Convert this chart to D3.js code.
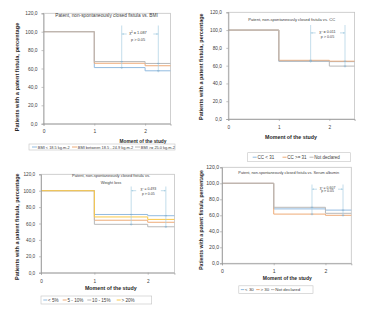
<!DOCTYPE html>
<html><head><meta charset="utf-8">
<script src="https://cdn.jsdelivr.net/npm/d3@7"></script>
<style>body{margin:0;background:#fff} svg{display:block;font-family:"Liberation Sans",Arial,sans-serif}</style>
</head><body><svg id="c" width="391" height="323"></svg>
<script>
// ---------- DATA ----------
const timePoints = [0, 1, 2];
const xDomain = [0, 2.5];
const xTicks = [0, 1, 2];
const yTicks = [0, 20, 40, 60, 80, 100, 120];
const yLabelText = "Patients with a patent fistula, percentage";
const xLabelText = "Moment of the study";

const bmiTitle = ["Patent, non-spontaneously closed fistula vs. BMI"];
const bmiSeries = ["BMI < 18.5 kg.m-2", "BMI between 18.5 - 24.9 kg.m-2", "BMI >= 25.0 kg.m-2"];
const bmiValues = [[100, 61.0, 57.5], [100, 65.7, 63.0], [100, 67.5, 65.5]];
const bmiStat = ["χ² = 1.087", "p > 0.05"];

const ccTitle = ["Patent, non-spontaneously closed fistula vs. CC"];
const ccSeries = ["CC < 31", "CC >= 31", "Not declared"];
const ccValues = [[100, 65.0, 64.5], [100, 66.0, 65.0], [100, 65.0, 59.5]];
const ccStat = ["χ² = 0.011", "p > 0.05"];

const wlTitle = ["Patent, non-spontaneously closed fistula vs.", "Weight loss"];
const wlSeries = ["< 5%", "5 - 10%", "10 - 15%", "> 20%"];
const wlValues = [[100, 71.0, 69.5], [100, 64.0, 61.5], [100, 59.0, 56.0], [100, 68.0, 65.0]];
const wlStat = ["χ² = 0.493", "p > 0.05"];

const albTitle = ["Patent, non-spontaneously closed fistula vs. Serum albumin"];
const albSeries = ["< 30", "> 30", "Not declared"];
const albValues = [[100, 68.0, 66.5], [100, 61.5, 60.0], [100, 70.0, 62.5]];
const albStat = ["χ² = 0.607", "p > 0.05"];

// ---------- STYLE / LAYOUT ----------
const colBlue = "#92bbe0", colOrange = "#eeab78", colGrey = "#b8b8b8", colYellow = "#f9c94a";
const annColor = "#a9cfe2";

const panels = [
  {title: bmiTitle, series: bmiSeries, values: bmiValues, stat: bmiStat, colors: [colBlue, colOrange, colGrey],
   x0: 43.5, x1: 170.5, yb: 123.7, yt: 13.3, tickFs: 4.9, tickPad: 4, xTickY: 131,
   yLab: {x: 17, y: 77, fs: 5.6}, xLab: {x: 143, y: 141.7, fs: 4.8},
   tt: {x: 106.5, ys: [15.7], fs: 4.75},
   ann: {xs: [1.54, 2.26], top: 25.5, tx: 138, t1: 32.6, t2: 39.3, fs: 3.9},
   leg: {x: 29, y: 144, w: 146, h: 6, fs: 3.9, items: [32, 72, 135], lw: 5}},
  {title: ccTitle, series: ccSeries, values: ccValues, stat: ccStat, colors: [colBlue, colOrange, colGrey],
   x0: 228.3, x1: 354.6, yb: 119, yt: 12.3, tickFs: 4.7, tickPad: 4.5, xTickY: 127.7,
   yLab: {x: 201, y: 66.7, fs: 5.5}, xLab: {x: 291, y: 137.3, fs: 5.3},
   tt: {x: 291.7, ys: [19], fs: 4.1},
   ann: {xs: [1.63, 2.31], top: 25, tx: 327.5, t1: 31.5, t2: 36.7, fs: 3.7},
   leg: {x: 247.7, y: 152.7, w: 102.6, h: 9, fs: 4.5, items: [252.7, 282.5, 309.5], lw: 4}},
  {title: wlTitle, series: wlSeries, values: wlValues, stat: wlStat, colors: [colBlue, colOrange, colGrey, colYellow],
   x0: 41, x1: 174.4, yb: 272.7, yt: 174.3, tickFs: 4.7, tickPad: 3.8, xTickY: 281,
   yLab: {x: 16.7, y: 226.7, fs: 5.5}, xLab: {x: 110.8, y: 287.7, fs: 5.3},
   tt: {x: 111, ys: [175.7, 182.7], fs: 4},
   ann: {xs: [1.69, 2.34], top: 186.5, tx: 148.3, t1: 189.3, t2: 193.5, fs: 3.5},
   leg: {x: 41, y: 296, w: 110.7, h: 8, fs: 4.6, items: [43.3, 62.7, 87.3, 116.7], lw: 4}},
  {title: albTitle, series: albSeries, values: albValues, stat: albStat, colors: [colBlue, colOrange, colGrey],
   x0: 222, x1: 351.3, yb: 263.3, yt: 167.3, tickFs: 5.1, tickPad: 1, xTickY: 271,
   yLab: {x: 201, y: 220, fs: 5.15}, xLab: {x: 287.3, y: 278.3, fs: 5},
   tt: {x: 288.7, ys: [172.7], fs: 3.8},
   ann: {xs: [1.74, 2.34], top: 184.5, tx: 327.5, t1: 187.8, t2: 191.3, fs: 3.5},
   leg: {x: 238.8, y: 285.8, w: 74.2, h: 7.6, fs: 4.4, items: [240.8, 256.2, 271], lw: 3.5}}
];

const svg = d3.select("#c");
const fmt = d => d.toFixed(1).replace(".", ",");

panels.forEach(p => {
  const g = svg.append("g");
  const x = d3.scaleLinear().domain(xDomain).range([p.x0, p.x1]);
  const y = d3.scaleLinear().domain([0, 120]).range([p.yb, p.yt]);

  // plot frame
  g.append("rect").attr("x", p.x0).attr("y", p.yt).attr("width", p.x1 - p.x0).attr("height", p.yb - p.yt)
    .attr("fill", "none").attr("stroke", "#c4c4c4").attr("stroke-width", 0.8);

  // series (step curves)
  const line = d3.line().x(d => x(d[0])).y(d => y(d[1])).curve(d3.curveStepAfter);
  p.values.forEach((vals, i) => {
    const pts = timePoints.map((t, k) => [t, vals[k]]);
    pts.push([xDomain[1], vals[vals.length - 1]]);
    g.append("path").attr("d", line(pts)).attr("fill", "none")
      .attr("stroke", p.colors[i]).attr("stroke-width", 1);
  });

  // axes
  const ya = g.append("g").attr("transform", `translate(${p.x0},0)`)
    .call(d3.axisLeft(y).tickValues(yTicks).tickSize(2).tickPadding(p.tickPad).tickFormat(fmt));
  ya.select(".domain").attr("stroke", "#9a9a9a").attr("stroke-width", 0.8);
  ya.selectAll(".tick line").attr("stroke", "#9a9a9a").attr("stroke-width", 0.6);
  ya.selectAll("text").attr("font-size", p.tickFs).attr("fill", "#404040").attr("font-family", "Liberation Sans, Arial");

  const xa = g.append("g").attr("transform", `translate(0,${p.yb})`)
    .call(d3.axisBottom(x).tickValues(xTicks).tickSize(2).tickFormat(d3.format("d")));
  xa.select(".domain").attr("stroke", "#9a9a9a").attr("stroke-width", 0.8);
  xa.selectAll(".tick line").attr("stroke", "#9a9a9a").attr("stroke-width", 0.6);
  xa.selectAll("text").attr("font-size", p.tickFs).attr("fill", "#404040").attr("font-family", "Liberation Sans, Arial")
    .attr("y", null).attr("dy", null).attr("dominant-baseline", "central")
    .attr("transform", `translate(0,${p.xTickY - p.yb})`);

  // axis titles
  g.append("text").attr("transform", `translate(${p.yLab.x},${p.yLab.y}) rotate(-90)`)
    .attr("text-anchor", "middle").attr("dominant-baseline", "central")
    .attr("font-size", p.yLab.fs).attr("font-weight", "bold").attr("fill", "#262626").text(yLabelText);
  g.append("text").attr("x", p.xLab.x).attr("y", p.xLab.y)
    .attr("text-anchor", "middle").attr("dominant-baseline", "central")
    .attr("font-size", p.xLab.fs).attr("font-weight", "bold").attr("fill", "#262626").text(xLabelText);

  // chart title
  p.title.forEach((t, k) => {
    g.append("text").attr("x", p.tt.x).attr("y", p.tt.ys[k])
      .attr("text-anchor", "middle").attr("dominant-baseline", "central")
      .attr("font-size", p.tt.fs).attr("fill", "#404040").text(t);
  });

  // chi-square annotation
  const a = p.ann;
  const xl = x(a.xs[0]), xr = x(a.xs[1]);
  const idxAt = xv => xv >= 2 ? 2 : (xv >= 1 ? 1 : 0);
  [xl, xr].forEach((xx, k) => {
    const idx = idxAt(a.xs[k]);
    const low = d3.min(p.values, v => v[idx]);
    const high = d3.max(p.values, v => v[idx]);
    g.append("line").attr("x1", xx).attr("x2", xx).attr("y1", a.top).attr("y2", y(low - 1.6))
      .attr("stroke", annColor).attr("stroke-width", 0.7);
    [low, high].forEach(v => {
      g.append("line").attr("x1", xx - 1.2).attr("x2", xx + 1.2).attr("y1", y(v)).attr("y2", y(v))
        .attr("stroke", "#7fa9c8").attr("stroke-width", 0.7);
    });
  });
  const ay = a.t1 + 1.4;
  [[xl, xl + 5], [xr - 5, xr]].forEach(s => {
    g.append("line").attr("x1", s[0]).attr("x2", s[1]).attr("y1", ay).attr("y2", ay)
      .attr("stroke", annColor).attr("stroke-width", 0.7);
  });
  g.append("path").attr("d", `M${xl + 0.3},${ay} l1.6,-0.9 v1.8 z M${xr - 0.3},${ay} l-1.6,-0.9 v1.8 z`).attr("fill", annColor);
  g.append("text").attr("x", a.tx).attr("y", a.t1).attr("text-anchor", "middle").attr("dominant-baseline", "central")
    .attr("font-size", a.fs).attr("fill", "#404040").text(p.stat[0]);
  g.append("text").attr("x", a.tx).attr("y", a.t2).attr("text-anchor", "middle").attr("dominant-baseline", "central")
    .attr("font-size", a.fs).attr("fill", "#404040").text(p.stat[1]);

  // legend
  const L = p.leg;
  g.append("rect").attr("x", L.x).attr("y", L.y).attr("width", L.w).attr("height", L.h)
    .attr("fill", "#fff").attr("stroke", "#c4c4c4").attr("stroke-width", 0.6);
  const cy = L.y + L.h / 2;
  p.series.forEach((s, i) => {
    const lx = L.items[i];
    g.append("line").attr("x1", lx).attr("x2", lx + L.lw).attr("y1", cy).attr("y2", cy)
      .attr("stroke", p.colors[i]).attr("stroke-width", 1);
    g.append("text").attr("x", lx + L.lw + 0.8).attr("y", cy).attr("dominant-baseline", "central")
      .attr("font-size", L.fs).attr("fill", "#404040").text(s);
  });
});
</script></body></html>
